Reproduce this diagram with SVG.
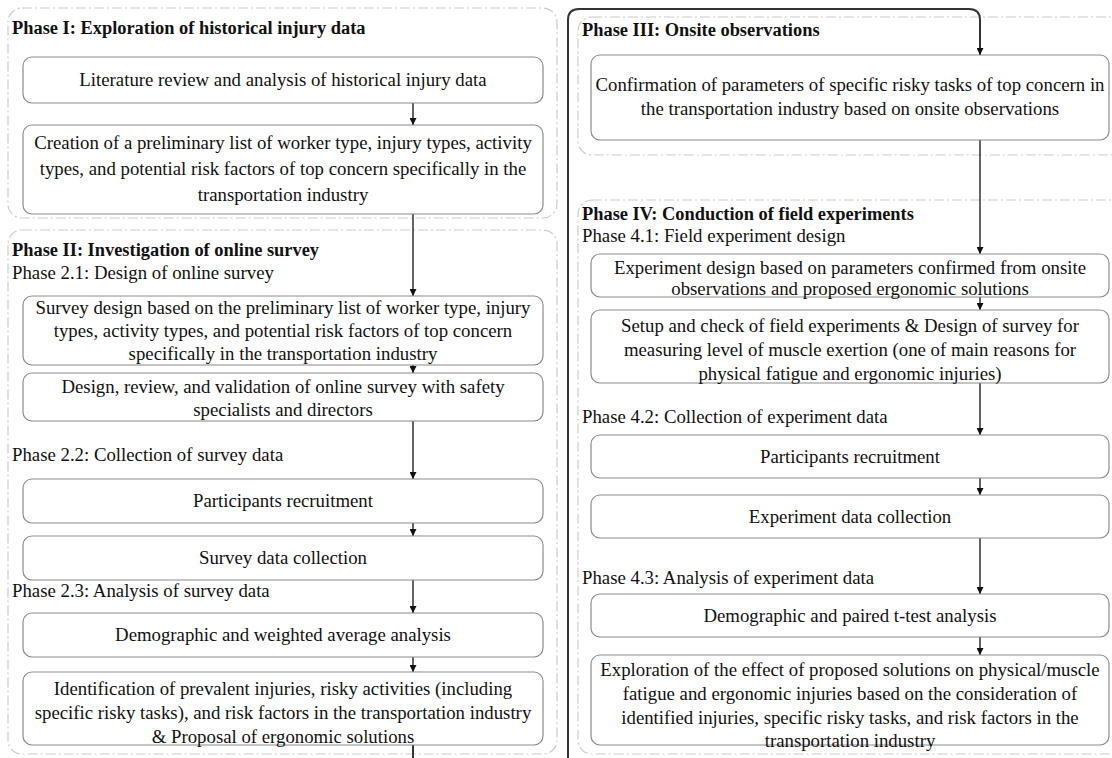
<svg xmlns="http://www.w3.org/2000/svg" width="1112" height="758" viewBox="0 0 1112 758">
<defs>
<marker id="arr" viewBox="0 0 10 10" refX="10" refY="5" markerWidth="8" markerHeight="7" markerUnits="userSpaceOnUse" orient="auto">
<path d="M0,0 L10,5 L0,10 z" fill="#111"/>
</marker>
<style>
.cont{fill:none;stroke:#cbcbcb;stroke-width:1.2;stroke-dasharray:10 3 2 3}
.box{fill:#fff;stroke:#8c8c8c;stroke-width:1.2}
text{font-family:'Liberation Serif','Times New Roman',serif;font-size:18.8px;fill:#111}
.t{text-anchor:middle}
.h{font-weight:bold;font-size:18.4px}
.c{fill:none;stroke:#111;stroke-width:1.3}
.main{fill:none;stroke:#333;stroke-width:2}
</style>
</defs>
<rect width="1112" height="758" fill="#fff"/>
<g id="containers">
<rect id="phase1" class="cont" x="8" y="8" width="549" height="210" rx="14"/>
<rect id="phase2" class="cont" x="8" y="230" width="549" height="524" rx="14"/>
<rect id="phase3" class="cont" x="578" y="17" width="560" height="138" rx="14"/>
<rect id="phase4" class="cont" x="578" y="200" width="560" height="554" rx="14"/>
</g>
<g id="labels">
<text class="h" x="12" y="34">Phase I: Exploration of historical injury data</text>
<text class="h" x="12" y="256">Phase II: Investigation of online survey</text>
<text x="12" y="279">Phase 2.1: Design of online survey</text>
<text x="12" y="461">Phase 2.2: Collection of survey data</text>
<text x="12" y="597">Phase 2.3: Analysis of survey data</text>
<text class="h" x="582" y="36">Phase III: Onsite observations</text>
<text class="h" x="582" y="220">Phase IV: Conduction of field experiments</text>
<text x="582" y="242">Phase 4.1: Field experiment design</text>
<text x="582" y="423">Phase 4.2: Collection of experiment data</text>
<text x="582" y="584">Phase 4.3: Analysis of experiment data</text>
</g>
<g id="connectors">
<path class="c" d="M413,103 V125" marker-end="url(#arr)"/>
<path class="c" d="M413,214 V296" marker-end="url(#arr)"/>
<path class="c" d="M413,365 V373" marker-end="url(#arr)"/>
<path class="c" d="M413,421 V479" marker-end="url(#arr)"/>
<path class="c" d="M413,523 V536" marker-end="url(#arr)"/>
<path class="c" d="M413,580 V613" marker-end="url(#arr)"/>
<path class="c" d="M413,657 V672" marker-end="url(#arr)"/>
<path class="main" d="M413,745 V775 H568 V20 Q568,9 579,9 H969 Q980,9 980,20 V55" marker-end="url(#arr)"/>
<path class="c" d="M980,140 V254" marker-end="url(#arr)"/>
<path class="c" d="M980,297 V310" marker-end="url(#arr)"/>
<path class="c" d="M980,383 V435" marker-end="url(#arr)"/>
<path class="c" d="M980,478 V495" marker-end="url(#arr)"/>
<path class="c" d="M980,538 V594" marker-end="url(#arr)"/>
<path class="c" d="M980,637 V655" marker-end="url(#arr)"/>
</g>
<g id="n1"><rect class="box" x="23" y="57" width="520" height="46" rx="9"/>
<text class="t" x="283" y="86">Literature review and analysis of historical injury data</text></g>
<g id="n2"><rect class="box" x="23" y="125" width="520" height="89" rx="9"/>
<text class="t" x="283" y="149">Creation of a preliminary list of worker type, injury types, activity</text>
<text class="t" x="283" y="175">types, and potential risk factors of top concern specifically in the</text>
<text class="t" x="283" y="201">transportation industry</text></g>
<g id="n3"><rect class="box" x="23" y="296" width="520" height="69" rx="9"/>
<text class="t" x="283" y="314">Survey design based on the preliminary list of worker type, injury</text>
<text class="t" x="283" y="337">types, activity types, and potential risk factors of top concern</text>
<text class="t" x="283" y="360">specifically in the transportation industry</text></g>
<g id="n4"><rect class="box" x="23" y="373" width="520" height="48" rx="9"/>
<text class="t" x="283" y="393">Design, review, and validation of online survey with safety</text>
<text class="t" x="283" y="416">specialists and directors</text></g>
<g id="n5"><rect class="box" x="23" y="479" width="520" height="44" rx="9"/>
<text class="t" x="283" y="507">Participants recruitment</text></g>
<g id="n6"><rect class="box" x="23" y="536" width="520" height="44" rx="9"/>
<text class="t" x="283" y="564">Survey data collection</text></g>
<g id="n7"><rect class="box" x="23" y="613" width="520" height="44" rx="9"/>
<text class="t" x="283" y="641">Demographic and weighted average analysis</text></g>
<g id="n8"><rect class="box" x="23" y="672" width="520" height="73" rx="9"/>
<text class="t" x="283" y="695">Identification of prevalent injuries, risky activities (including</text>
<text class="t" x="283" y="719">specific risky tasks), and risk factors in the transportation industry</text>
<text class="t" x="283" y="743">&amp; Proposal of ergonomic solutions</text></g>
<g id="n9"><rect class="box" x="591" y="55" width="518" height="85" rx="9"/>
<text class="t" x="850" y="91">Confirmation of parameters of specific risky tasks of top concern in</text>
<text class="t" x="850" y="115">the transportation industry based on onsite observations</text></g>
<g id="n10"><rect class="box" x="591" y="254" width="518" height="43" rx="9"/>
<text class="t" x="850" y="274">Experiment design based on parameters confirmed from onsite</text>
<text class="t" x="850" y="295">observations and proposed ergonomic solutions</text></g>
<g id="n11"><rect class="box" x="591" y="310" width="518" height="73" rx="9"/>
<text class="t" x="850" y="332">Setup and check of field experiments &amp; Design of survey for</text>
<text class="t" x="850" y="356">measuring level of muscle exertion (one of main reasons for</text>
<text class="t" x="850" y="380">physical fatigue and ergonomic injuries)</text></g>
<g id="n12"><rect class="box" x="591" y="435" width="518" height="43" rx="9"/>
<text class="t" x="850" y="463">Participants recruitment</text></g>
<g id="n13"><rect class="box" x="591" y="495" width="518" height="43" rx="9"/>
<text class="t" x="850" y="523">Experiment data collection</text></g>
<g id="n14"><rect class="box" x="591" y="594" width="518" height="43" rx="9"/>
<text class="t" x="850" y="622">Demographic and paired t-test analysis</text></g>
<g id="n15"><rect class="box" x="591" y="655" width="518" height="90" rx="9"/>
<text class="t" x="850" y="676">Exploration of the effect of proposed solutions on physical/muscle</text>
<text class="t" x="850" y="700">fatigue and ergonomic injuries based on the consideration of</text>
<text class="t" x="850" y="724">identified injuries, specific risky tasks, and risk factors in the</text>
<text class="t" x="850" y="747">transportation industry</text></g>
</svg>
